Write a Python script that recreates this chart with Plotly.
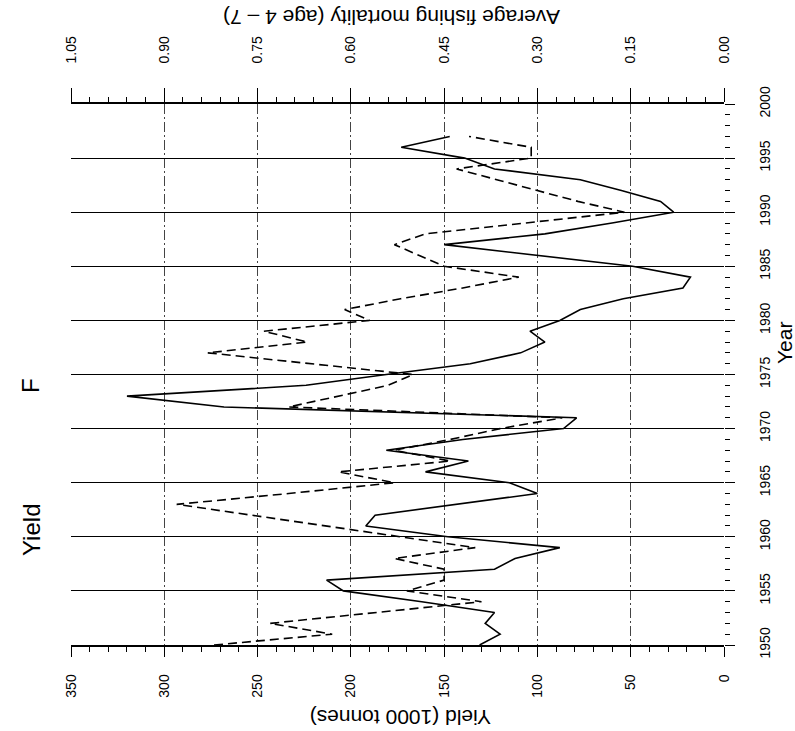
import plotly.graph_objects as go

years = list(range(1950, 1998))

yield_kt = [131, 120, 128, 123, 162, 204, 213, 123, 112, 88,
            148, 192, 187, 143, 100, 115, 160, 137, 181, 140,
            86, 79, 268, 320, 224, 181, 136, 109, 96, 104,
            88, 77, 54, 22, 18, 49, 99, 150, 96, 60,
            27, 34, 55, 77, 123, 139, 173, 147]

f_mort = [0.82, 0.63, 0.73, 0.56, 0.39, 0.51, 0.45, 0.45, 0.53, 0.40,
          0.52, 0.64, 0.76, 0.88, 0.70, 0.53, 0.62, 0.44, 0.53, 0.44,
          0.36, 0.26, 0.70, 0.62, 0.54, 0.50, 0.66, 0.83, 0.67, 0.74,
          0.57, 0.61, 0.52, 0.42, 0.33, 0.45, 0.49, 0.53, 0.48, 0.32,
          0.16, 0.235, 0.30, 0.365, 0.43, 0.31, 0.31, 0.41]

yield_ticks = [0, 50, 100, 150, 200, 250, 300, 350]
f_ticks = [0.0, 0.15, 0.30, 0.45, 0.60, 0.75, 0.90, 1.05]
year_ticks = list(range(1950, 2001, 5))

FONT = "Liberation Sans, Arial, sans-serif"
W, H = 795, 731
L, R, T, B = 71, 724, 104, 645


def px(x):
    return (x - L) / (R - L)


def py(y):
    return (B - y) / (B - T)


fig = go.Figure()
fig.add_trace(go.Scatter(x=yield_kt, y=years, mode="lines", name="Yield",
                         line=dict(color="black", width=1.6),
                         xaxis="x", yaxis="y", showlegend=False))
fig.add_trace(go.Scatter(x=f_mort, y=years, mode="lines", name="F",
                         line=dict(color="black", width=1.6, dash="9px,5px"),
                         xaxis="x2", yaxis="y", showlegend=False))

fig.update_layout(
    width=W, height=H,
    margin=dict(l=L, r=W - R, t=T, b=H - B, pad=0),
    paper_bgcolor="white", plot_bgcolor="white",
    font=dict(family=FONT, color="black", size=14),
    xaxis=dict(range=[350, 0], tickvals=yield_ticks, tickangle=-90,
               ticks="outside", ticklen=10, tickcolor="black", tickwidth=1,
               ticklabelstandoff=12,
               showgrid=True, gridcolor="#444", griddash="10px,3px,2px,3px",
               gridwidth=1,
               zeroline=False, showline=True, linecolor="black", linewidth=1.5,
               minor=dict(dtick=10, tick0=0, ticks="outside", ticklen=5,
                          tickcolor="black", showgrid=False),
               tickfont=dict(size=14, family=FONT)),
    xaxis2=dict(range=[1.05, 0], tickvals=f_ticks, tickformat=".2f",
                overlaying="x", side="top", anchor="y", tickangle=-90,
                ticks="outside", ticklen=14, tickcolor="black",
                ticklabelstandoff=22,
                showgrid=False, zeroline=False, showline=True,
                linecolor="black", linewidth=1.5,
                minor=dict(dtick=0.03, tick0=0, ticks="outside", ticklen=5,
                           tickcolor="black", showgrid=False),
                tickfont=dict(size=14, family=FONT)),
    yaxis=dict(range=[1950, 2000], tickvals=year_ticks, side="right",
               tickangle=-90, ticks="outside", ticklen=10, tickcolor="black",
               ticklabelstandoff=18,
               showgrid=True, gridcolor="black", gridwidth=1.3,
               zeroline=False, showline=False,
               minor=dict(dtick=1, tick0=1950, ticks="outside", ticklen=5,
                          tickcolor="black", showgrid=False),
               tickfont=dict(size=14, family=FONT)),
)

annotations = [
    dict(text="Average fishing mortality (age 4 \u2013 7)", x=px(392), y=py(17),
         textangle=180, font=dict(size=21)),
    dict(text="Yield (1000 tonnes)", x=px(401), y=py(718),
         textangle=180, font=dict(size=21)),
    dict(text="Year", x=px(784), y=py(343), textangle=-90, font=dict(size=21)),
    dict(text="Yield", x=px(31), y=py(530), textangle=-90, font=dict(size=24)),
    dict(text="F", x=px(31), y=py(386), textangle=-90, font=dict(size=24)),
]
for a in annotations:
    a.update(xref="paper", yref="paper", showarrow=False,
             xanchor="center", yanchor="middle")
    a["font"].update(family=FONT, color="black")
fig.update_layout(annotations=annotations)

fig.write_html("out.html")
